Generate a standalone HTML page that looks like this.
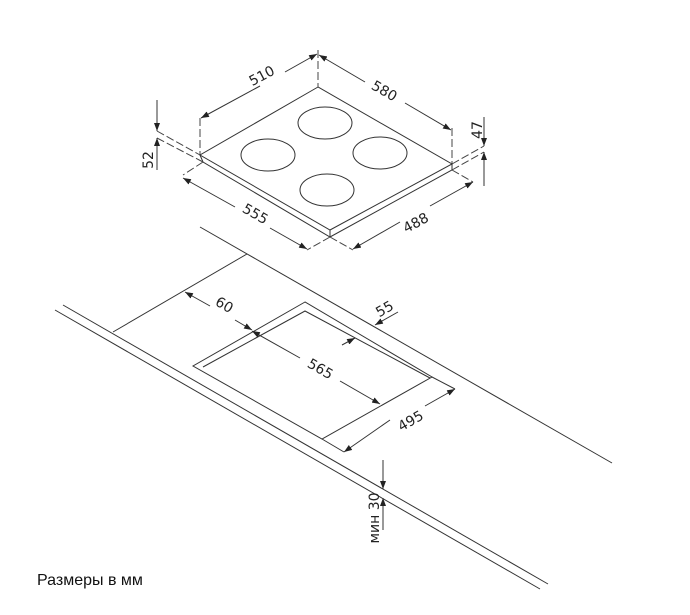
<!DOCTYPE html>
<html><head><meta charset="utf-8"><style>
html,body{margin:0;padding:0;background:#fff;width:690px;height:615px;overflow:hidden}
svg{display:block}
text{font-family:"DejaVu Sans","Liberation Sans",sans-serif;font-size:14px;fill:#222}
</style></head><body>
<svg width="690" height="615" viewBox="0 0 690 615" xmlns="http://www.w3.org/2000/svg">
<defs>
<marker id="a" markerWidth="8" markerHeight="6" refX="8" refY="3" orient="auto" markerUnits="userSpaceOnUse"><path d="M0,0 L8,3 L0,6 z" fill="#222"/></marker>
</defs>
<g stroke="#333" fill="none" stroke-width="1">
<path d="M318,87 L200,155 L330,230 L452,164 Z"/>
<path d="M200,155 L203,162 L330,237 L452,170 L452,164"/>
<path d="M330,230 L330,237"/>
<ellipse cx="325" cy="123" rx="27" ry="16"/>
<ellipse cx="268" cy="155" rx="27" ry="16"/>
<ellipse cx="380" cy="153" rx="27" ry="16"/>
<ellipse cx="327" cy="190" rx="27" ry="16"/>
<g stroke-dasharray="8,3" stroke="#444">
<path d="M200,118 L200,155"/>
<path d="M318,50 L318,87"/>
<path d="M452,128 L452,164"/>
<path d="M157,131 L200,155"/>
<path d="M157,138 L203,162"/>
<path d="M452,164 L484,146"/>
<path d="M452,170 L484,152"/>
<path d="M203,162 L183,175"/>
<path d="M330,237 L307,250"/>
<path d="M330,237 L353,250"/>
<path d="M452,170 L473,182"/>
</g>
<path d="M260,86 L201,118" marker-end="url(#a)"/><path d="M285,72 L317,54" marker-end="url(#a)"/>
<path d="M365,82 L319,55" marker-end="url(#a)"/><path d="M405,103 L451,130" marker-end="url(#a)"/>
<path d="M235,207 L183,178" marker-end="url(#a)"/><path d="M270,228 L307,249" marker-end="url(#a)"/>
<path d="M400,222 L353,249" marker-end="url(#a)"/><path d="M430,206 L473,182" marker-end="url(#a)"/>
<path d="M157,100 L157,131" marker-end="url(#a)"/><path d="M157,170 L157,138" marker-end="url(#a)"/>
<path d="M484,117 L484,146" marker-end="url(#a)"/><path d="M484,186 L484,152" marker-end="url(#a)"/>
<path d="M200,227 L612,463"/>
<path d="M63,305 L548,584"/>
<path d="M55,310 L540,589"/>
<path d="M247,254 L113,332"/>
<path d="M305,302 L193,366 L322,439 L432,377 Z"/>
<path d="M203,367 L305,311 L430,378"/>
<path d="M210,306 L185,292" marker-end="url(#a)"/><path d="M235,320 L252,330" marker-end="url(#a)"/>
<path d="M300,358 L252,331" marker-end="url(#a)"/><path d="M340,381 L380,404" marker-end="url(#a)"/>
<path d="M342,345 L355,338" marker-end="url(#a)"/><path d="M398,312 L375,325" marker-end="url(#a)"/>
<path d="M390,420 L344,452" marker-end="url(#a)"/><path d="M425,406 L455,389" marker-end="url(#a)"/>
<path d="M322,439 L344,452"/><path d="M432,377 L455,389"/>
<path d="M383,460 L383,489" marker-end="url(#a)"/><path d="M383,530 L383,498" marker-end="url(#a)"/>
</g>
<text transform="translate(264,80) rotate(-28)" text-anchor="middle">510</text>
<text transform="translate(382,95) rotate(30)" text-anchor="middle">580</text>
<text transform="translate(253,218) rotate(30)" text-anchor="middle">555</text>
<text transform="translate(418,227) rotate(-28)" text-anchor="middle">488</text>
<text transform="translate(153,160) rotate(-90)" text-anchor="middle">52</text>
<text transform="translate(482,130) rotate(-90)" text-anchor="middle">47</text>
<text transform="translate(222,309) rotate(30)" text-anchor="middle">60</text>
<text transform="translate(387,313) rotate(-30)" text-anchor="middle">55</text>
<text transform="translate(318,373) rotate(30)" text-anchor="middle">565</text>
<text transform="translate(413,425) rotate(-30)" text-anchor="middle">495</text>
<text transform="translate(379,518) rotate(-90)" text-anchor="middle">мин 30</text>
<text x="37" y="585" style="font-family:'Liberation Sans',sans-serif;font-size:16px;fill:#111">Размеры в мм</text>
</svg>
</body></html>
